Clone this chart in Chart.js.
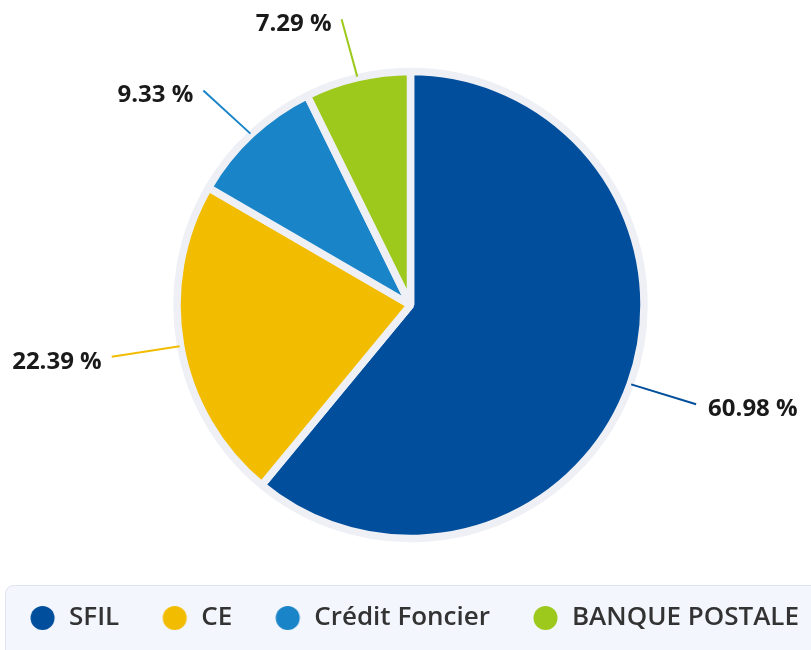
<!DOCTYPE html>
<html>
<head>
<meta charset="utf-8">
<script src="https://cdn.jsdelivr.net/npm/chart.js@4"></script>
<style>
  html, body { margin: 0; background: #fff; overflow: hidden; }
  canvas { display: block; margin-left: -20px; }
</style>
</head>
<body>
<canvas id="grafica-pastel" width="861" height="650"></canvas>
<script>
// datos de la grafica
var etiquetas = ['SFIL', 'CE', 'Crédit Foncier', 'BANQUE POSTALE'];
var valores = [60.98, 22.39, 9.33, 7.29];
var colores = ['#004e9c', '#f2bc00', '#1984c8', '#9dc81c'];

var colorBorde = '#eef0f5';
var paddingLeyenda = 35;
var fuenteLeyenda = 26;

// circulo de la leyenda (canvas con el circulo corrido a la derecha)
function circuloLeyenda(color) {
  var c = document.createElement('canvas');
  c.width = 34;
  c.height = 26;
  var g = c.getContext('2d');
  g.fillStyle = color;
  g.beginPath();
  g.arc(20.5, 13, 12, 0, 2 * Math.PI);
  g.fill();
  return c;
}

// caja gris detras de la leyenda
var fondoLeyenda = {
  id: 'fondoLeyenda',
  beforeDraw: function(chart) {
    var ctx = chart.ctx;
    var lg = chart.legend;
    var centro = lg.top + paddingLeyenda + fuenteLeyenda / 2;
    var x = 25.5, y = Math.round(centro - 33) + 0.5, w = 860, h = 120, r = 8;
    ctx.save();
    ctx.beginPath();
    ctx.moveTo(x + r, y);
    ctx.lineTo(x + w - r, y);
    ctx.arcTo(x + w, y, x + w, y + r, r);
    ctx.lineTo(x + w, y + h - r);
    ctx.arcTo(x + w, y + h, x + w - r, y + h, r);
    ctx.lineTo(x + r, y + h);
    ctx.arcTo(x, y + h, x, y + h - r, r);
    ctx.lineTo(x, y + r);
    ctx.arcTo(x, y, x + r, y, r);
    ctx.closePath();
    ctx.fillStyle = '#f4f6fd';
    ctx.fill();
    ctx.strokeStyle = '#dde3ef';
    ctx.lineWidth = 1;
    ctx.stroke();
    ctx.restore();
  }
};

// etiquetas de porcentaje con linea guia
var etiquetasFuera = {
  id: 'etiquetasFuera',
  afterDatasetsDraw: function(chart) {
    var ctx = chart.ctx;
    var meta = chart.getDatasetMeta(0);
    ctx.save();
    meta.data.forEach(function(arc, i) {
      var p = arc.getProps(['x', 'y', 'startAngle', 'endAngle', 'outerRadius'], true);
      var mid = (p.startAngle + p.endAngle) / 2;
      var cos = Math.cos(mid), sin = Math.sin(mid);
      var r1 = p.outerRadius + 1;
      var x2 = p.x + cos * (p.outerRadius + 70);
      var y2 = p.y + sin * (p.outerRadius + 60);
      ctx.beginPath();
      ctx.moveTo(p.x + cos * r1, p.y + sin * r1);
      ctx.lineTo(x2, y2);
      ctx.strokeStyle = colores[i];
      ctx.lineWidth = 2;
      ctx.stroke();
      ctx.font = "bold 24px 'Open Sans', sans-serif";
      ctx.fillStyle = '#1a1a1a';
      ctx.textBaseline = 'middle';
      var derecha = cos >= 0;
      ctx.textAlign = derecha ? 'left' : 'right';
      ctx.fillText(valores[i].toFixed(2) + ' %', x2 + (derecha ? 12 : -10), y2 + 5);
    });
    ctx.restore();
  }
};

var ctx = document.getElementById('grafica-pastel').getContext('2d');
var chart = new Chart(ctx, {
  type: 'pie',
  data: {
    labels: etiquetas,
    datasets: [{
      data: valores,
      backgroundColor: colores,
      borderColor: colorBorde,
      borderWidth: 7.5
    }]
  },
  options: {
    responsive: false,
    animation: false,
    devicePixelRatio: 1,
    radius: 233.5,
    layout: {
      padding: { left: 0, right: 0, top: 40, bottom: 9 }
    },
    plugins: {
      tooltip: { enabled: false },
      legend: {
        position: 'bottom',
        align: 'center',
        labels: {
          usePointStyle: true,
          boxHeight: 16,
          pointStyleWidth: 34,
          padding: paddingLeyenda,
          color: '#333',
          font: { family: "'Open Sans', sans-serif", size: fuenteLeyenda, weight: '600' },
          generateLabels: function(chart) {
            var items = Chart.controllers.pie.overrides.plugins.legend.labels.generateLabels(chart);
            items.forEach(function(it, i) {
              it.lineWidth = 0;
              it.pointStyle = circuloLeyenda(colores[i]);
            });
            return items;
          }
        }
      }
    }
  },
  plugins: [fondoLeyenda, etiquetasFuera]
});
</script>
</body>
</html>
